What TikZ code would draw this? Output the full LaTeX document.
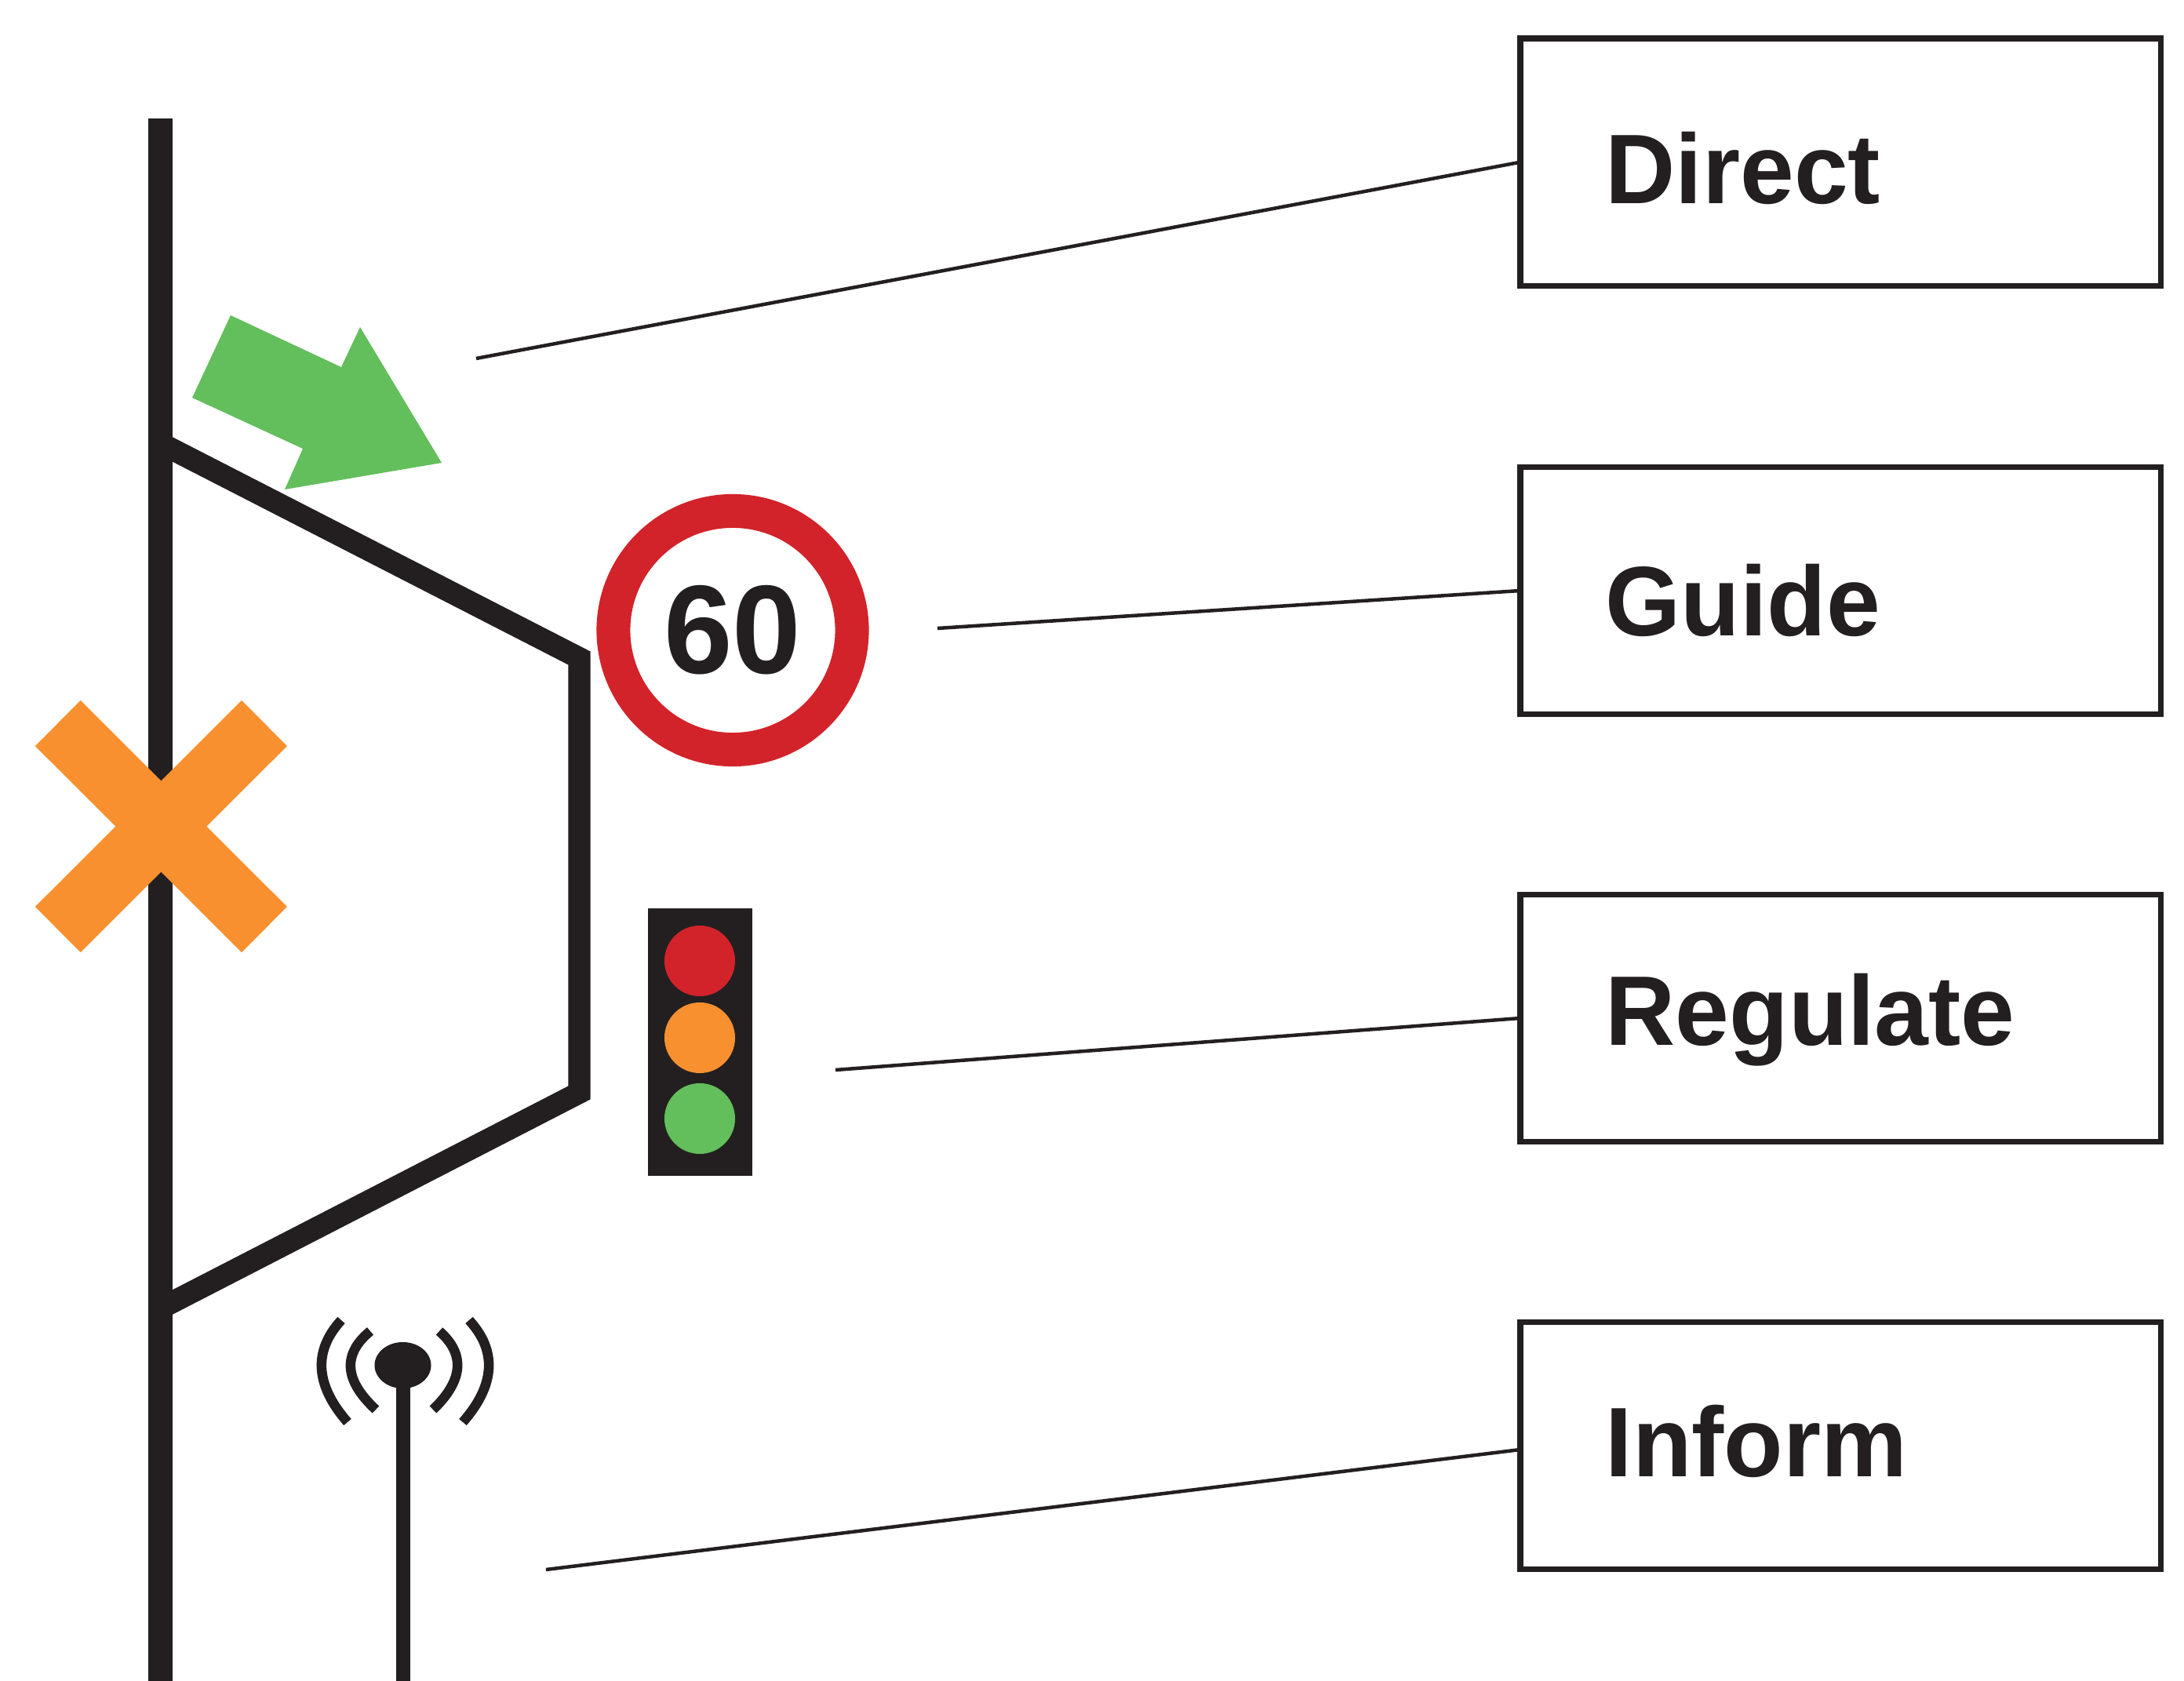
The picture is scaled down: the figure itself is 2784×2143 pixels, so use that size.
\documentclass[tikz,border=0pt]{standalone}
\usepackage{fontspec}
\setmainfont{Liberation Sans}[FakeStretch=0.98]
\usetikzlibrary{shapes.geometric}
\definecolor{encre}{HTML}{231F20}
\definecolor{rouge}{HTML}{D2232A}
\definecolor{orange}{HTML}{F8902F}
\definecolor{vert}{HTML}{63BE5C}
\begin{document}
\begin{tikzpicture}[x=0.01cm,y=-0.01cm]
  \tikzstyle{route}=[draw=encre,line width=0.3cm]
  \tikzstyle{bretelle}=[draw=encre,line width=0.28cm,miter limit=10]
  \tikzstyle{croix}=[draw=orange,line width=0.82cm]
  \tikzstyle{onde}=[draw=encre,line width=0.125cm]
  \tikzstyle{boite}=[rectangle, draw=encre, line width=0.075cm, minimum width=8.16cm, minimum height=3.15cm, inner sep=0pt, outer sep=0pt]
  \tikzstyle{texte}=[anchor=base west, inner sep=0pt, text=encre, font=\bfseries\fontsize{35.85}{40}\selectfont]
  \tikzstyle{fil}=[draw=encre,line width=0.045cm]
  \tikzstyle{feu}=[circle, minimum size=0.9cm, inner sep=0pt, outer sep=0pt]
  \useasboundingbox (0,0) rectangle (2784,2143);
  \draw[route] (204.5,151) -- (204.5,2143);
  \draw[bretelle] (204.5,565) -- (738.5,839) -- (738.5,1393) -- (204.5,1668);
  \fill[vert] (294,402) -- (435,468) -- (459,417) -- (563,590) -- (363,624) -- (386,572) -- (245,507) -- cycle;
  \draw[croix] (73.75,922) -- (337,1185);
  \draw[croix] (337,922) -- (73.75,1185);
  \node[circle, draw=rouge, line width=0.43cm, minimum size=3.04cm, inner sep=0pt, outer sep=0pt, text=encre, font=\bfseries\fontsize{45.7}{50}\selectfont] (signal) at (934,803.5) {60};
  \node[rectangle, fill=encre, minimum width=1.33cm, minimum height=3.41cm, inner sep=0pt, outer sep=0pt] (poteau) at (892.5,1328.5) {};
  \foreach \n/\y/\c in {f1/1225/rouge,f2/1323/orange,f3/1426/vert} {
    \draw (892,\y) node[feu,fill=\c] (\n) {};
  }
  \coordinate (pied) at (513.5,2143);
  \node[ellipse, fill=encre, minimum width=0.72cm, minimum height=0.59cm, inner sep=0pt, outer sep=0pt] (tete) at (513.5,1740.5) {};
  \draw[encre,line width=0.18cm] (tete.center) -- (pied);
  \draw[onde] (472,1697) .. controls (436.3,1726.3) and (438.7,1759.7) .. (479,1797);
  \draw[onde] (435,1683) .. controls (399,1722.3) and (401.7,1765.7) .. (443,1813);
  \draw[onde] (560,1697) .. controls (593.3,1726.3) and (590.7,1759.7) .. (552,1797);
  \draw[onde] (598,1683) .. controls (634,1722.3) and (631.3,1765.7) .. (590,1813);
  \foreach \n/\y/\b/\t in {direct/206.75/260/Direct,guide/753/811/Guide,regulate/1298/1332/Regulate,inform/1843/1882/Inform} {
    \draw (2346,\y) node[boite] (\n) {};
    \node[texte] (t\n) at (2046,\b) {\t};
  }
  \foreach \n/\x/\y in {a/607/457,b/1195/801,c/1065/1364,d/696/2001} {
    \coordinate (\n) at (\x,\y);
  }
  \foreach \a/\b/\s in {a/direct/0,b/guide/0,c/regulate/0,d/inform/-0.05} {
    \draw[fil] (\a) -- ([yshift=\s cm]\b.west);
  }
\end{tikzpicture}
\end{document}
